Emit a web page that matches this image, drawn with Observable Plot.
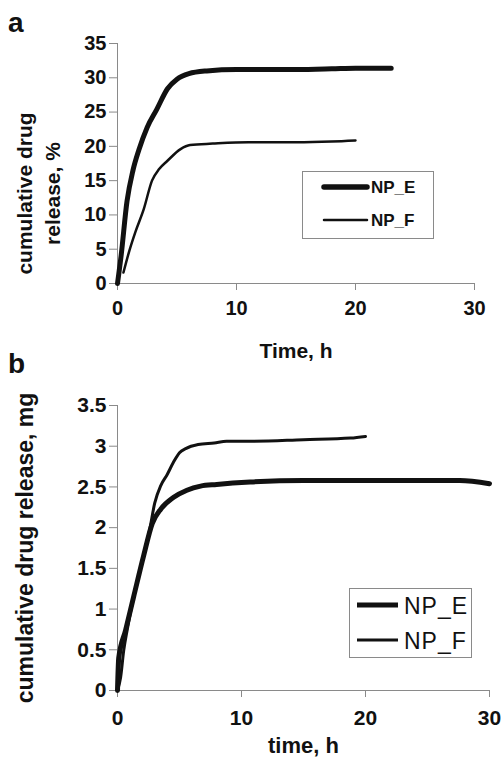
<!DOCTYPE html>
<html><head><meta charset="utf-8">
<script src="https://cdn.jsdelivr.net/npm/d3@7"></script>
<script src="https://cdn.jsdelivr.net/npm/@observablehq/plot@0.6"></script>
<style>
html,body{margin:0;padding:0;background:#fff;}
#root{position:relative;width:502px;height:765px;overflow:hidden;}
#root svg{position:absolute;left:0;margin:0;}
</style></head><body><div id="root"></div>
<script>
// ---------- data ----------
const seriesNames = ["NP_E", "NP_F"];

// panel a: cumulative drug release, %
const aTimeE = [0, 0.3, 0.8, 1.3, 1.8, 2.5, 3.3, 4.2, 5, 6, 7.5, 10, 15, 18, 20, 23];
const aPctE  = [0, 4, 12, 16.5, 19.5, 22.8, 25.4, 28.4, 29.8, 30.6, 31.0, 31.2, 31.2, 31.3, 31.4, 31.4];
const aTimeF = [0.5, 1, 1.5, 2.2, 2.9, 3.5, 4.2, 5.3, 6.1, 8, 11, 15, 18, 20];
const aPctF  = [1.6, 4.8, 7.5, 10.8, 15.0, 16.7, 17.9, 19.6, 20.2, 20.4, 20.6, 20.6, 20.7, 20.85];

// panel b: cumulative drug release, mg
const bTimeE = [0, 0.1, 0.65, 1.3, 2.1, 2.8, 3.5, 4.5, 5.6, 6.7, 8, 10.7, 15, 20, 25, 27.6, 30];
const bMgE   = [0, 0.4, 0.74, 1.15, 1.65, 2.05, 2.23, 2.37, 2.46, 2.51, 2.53, 2.56, 2.58, 2.58, 2.58, 2.58, 2.54];
const bTimeF = [0, 0.25, 0.5, 0.8, 1.3, 2.1, 2.6, 3.0, 3.5, 4.0, 4.5, 5.0, 5.5, 6.5, 7.8, 8.8, 10.7, 15, 18.8, 20];
const bMgF   = [0, 0.16, 0.49, 0.76, 1.15, 1.65, 1.98, 2.3, 2.52, 2.65, 2.8, 2.92, 2.97, 3.02, 3.04, 3.06, 3.06, 3.08, 3.10, 3.12];

const xTicks  = [0, 10, 20, 30];
const aYTicks = [0, 5, 10, 15, 20, 25, 30, 35];
const bYTicks = [0, 0.5, 1, 1.5, 2, 2.5, 3, 3.5];

const aXLabel = "Time, h";
const aYLabel = "cumulative drug\nrelease, %";
const bXLabel = "time, h";
const bYLabel = "cumulative drug release, mg";
const panelLetters = ["a", "b"];

// ---------- helpers ----------
const FONT = "'Liberation Sans', Arial, Helvetica, sans-serif";
const AX = "#8a8a8a";
const INK = "#111";
const fmt = d => String(d);
const rows = (ts, vs, s) => ts.map((t, i) => ({series: s, t, v: vs[i]}));

const aE = rows(aTimeE, aPctE, seriesNames[0]);
const aF = rows(aTimeF, aPctF, seriesNames[1]);
const bE = rows(bTimeE, bMgE, seriesNames[0]);
const bF = rows(bTimeF, bMgF, seriesNames[1]);

const root = document.getElementById("root");

// ---------- panel a ----------
const plotA = Plot.plot({
  width: 502, height: 370,
  marginTop: 43, marginBottom: 87, marginLeft: 117, marginRight: 28,
  style: {fontFamily: FONT, fontWeight: "bold", fontSize: "20px", color: INK, background: "transparent"},
  x: {domain: [0, 30]},
  y: {domain: [0, 35]},
  marks: [
    Plot.ruleY([0], {stroke: AX}),
    Plot.ruleX([0], {stroke: AX}),
    Plot.axisX(xTicks, {tickSize: 7, tickPadding: 10, stroke: AX, fill: INK, label: null, tickFormat: fmt}),
    Plot.axisY(aYTicks, {tickSize: 8, tickPadding: 3, stroke: AX, fill: INK, label: null, tickFormat: fmt}),
    Plot.line(aE, {x: "t", y: "v", stroke: INK, strokeWidth: 5, curve: "monotone-x", strokeLinejoin: "round", strokeLinecap: "round"}),
    Plot.line(aF, {x: "t", y: "v", stroke: INK, strokeWidth: 2.5, curve: "monotone-x", strokeLinejoin: "round"}),
    Plot.text([aXLabel], {text: d => d, frameAnchor: "bottom", textAnchor: "middle", lineAnchor: "bottom", dy: 74, fontSize: 21, fill: INK}),
    Plot.text([aYLabel], {text: d => d, frameAnchor: "left", textAnchor: "middle", rotate: -90, lineAnchor: "middle", lineHeight: 1.33, dx: -80, dy: 30, fontSize: 21, fill: INK})
  ]
});
plotA.style.top = "0px";
root.appendChild(plotA);

// ---------- panel b ----------
const plotB = Plot.plot({
  width: 502, height: 385,
  marginTop: 25, marginBottom: 75, marginLeft: 117, marginRight: 13,
  style: {fontFamily: FONT, fontWeight: "bold", fontSize: "21px", color: INK, background: "transparent"},
  x: {domain: [0, 30]},
  y: {domain: [0, 3.5]},
  marks: [
    Plot.ruleY([0], {stroke: AX}),
    Plot.ruleX([0], {stroke: AX}),
    Plot.axisX(xTicks, {tickSize: 7, tickPadding: 13, stroke: AX, fill: INK, label: null, tickFormat: fmt}),
    Plot.axisY(bYTicks, {tickSize: 8, tickPadding: 3, stroke: AX, fill: INK, label: null, tickFormat: fmt}),
    Plot.line(bE, {x: "t", y: "v", stroke: INK, strokeWidth: 5, curve: "monotone-x", strokeLinejoin: "round"}),
    Plot.line(bF, {x: "t", y: "v", stroke: INK, strokeWidth: 3, curve: "monotone-x", strokeLinejoin: "round"}),
    Plot.text([bXLabel], {text: d => d, frameAnchor: "bottom", textAnchor: "middle", lineAnchor: "bottom", dy: 62, fontSize: 22, fill: INK}),
    Plot.text([bYLabel], {text: d => d, frameAnchor: "left", textAnchor: "middle", rotate: -90, lineAnchor: "middle", dx: -92, dy: 0, fontSize: 23, fill: INK})
  ]
});
plotB.style.top = "380px";
root.appendChild(plotB);

// ---------- overlay: panel letters and legends ----------
const ns = "http://www.w3.org/2000/svg";
const ov = document.createElementNS(ns, "svg");
ov.setAttribute("width", 502); ov.setAttribute("height", 765);
ov.style.top = "0px"; ov.style.pointerEvents = "none";
root.appendChild(ov);
function el(tag, attrs, txt) {
  const e = document.createElementNS(ns, tag);
  for (const k in attrs) e.setAttribute(k, attrs[k]);
  if (txt != null) e.textContent = txt;
  ov.appendChild(e);
  return e;
}
el("text", {x: 8, y: 32, "font-family": FONT, "font-weight": "bold", "font-size": 28, fill: INK}, panelLetters[0]);
el("text", {x: 8, y: 373, "font-family": FONT, "font-weight": "bold", "font-size": 28, fill: INK}, panelLetters[1]);

// legend a
el("rect", {x: 302.5, y: 171.5, width: 131, height: 67, fill: "white", stroke: AX});
[[187, 5.5], [220, 2.5]].forEach(([y, w], i) => {
  el("line", {x1: 324, x2: 367, y1: y, y2: y, stroke: INK, "stroke-width": w, "stroke-linecap": "round"});
  el("text", {x: 371, y: y, "dominant-baseline": "central", "font-family": FONT, "font-weight": "bold", "font-size": 17, fill: INK}, seriesNames[i]);
});
// legend b
el("rect", {x: 349.5, y: 588.5, width: 122, height: 69, fill: "white", stroke: AX});
[[605, 5], [640, 3]].forEach(([y, w], i) => {
  el("line", {x1: 357, x2: 398, y1: y, y2: y, stroke: INK, "stroke-width": w});
  el("text", {x: 404, y: y + 1, "dominant-baseline": "central", "font-family": FONT, "font-size": 23, "letter-spacing": "1px", fill: INK}, seriesNames[i]);
});
</script></body></html>
